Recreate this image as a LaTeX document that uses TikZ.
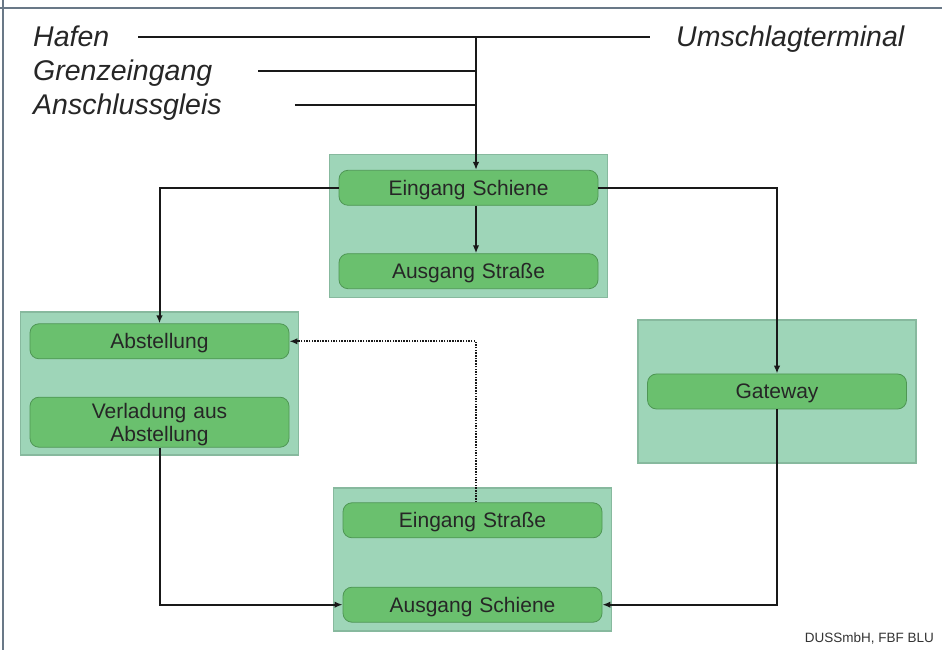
\documentclass[tikz,border=0pt]{standalone}
\usepackage{fontspec}
\setmainfont{Liberation Sans}
\usetikzlibrary{positioning, arrows.meta}

\definecolor{boxmint}{RGB}{158,213,184}
\definecolor{boxedge}{RGB}{135,185,158}
\definecolor{pillgreen}{RGB}{106,192,110}
\definecolor{pilledge}{RGB}{78,150,84}
\definecolor{framegray}{RGB}{105,120,135}

\begin{document}
\begin{tikzpicture}[x=1pt, y=1pt,
					container/.style={draw=boxedge, fill=boxmint, line width=1.2pt, rectangle, minimum width=278pt, minimum height=143pt, inner sep=0pt},
					pill/.style={draw=pilledge, fill=pillgreen, line width=0.8pt, rectangle, rounded corners=9pt, minimum width=259pt, minimum height=35pt, text width=250pt, align=center, inner sep=0pt, text height=15pt, text depth=0pt, font=\fontsize{21}{23}\selectfont, text=black!85},
					place/.style={font=\fontsize{28.5}{32}\selectfont\itshape, text=black!85, inner sep=0pt, text height=20pt, text depth=0pt, anchor=west},
					feed/.style={line width=2pt, draw=black!90},
					arrow/.style={feed, -{Latex[length=8pt, width=6.5pt]}},
					backflow/.style={arrow, dash pattern=on 1.5pt off 1.2pt},
					credit/.style={font=\fontsize{13.5}{15}\selectfont, text=black!80, inner sep=0pt}
					]
					
					\useasboundingbox (0,0) rectangle (942,650);
					
					% Frame
					\draw[framegray, line width=2pt] (0,642) -- (942,642);
					\draw[framegray, line width=2pt] (3,0) -- (3,650);
					
					% Origins
					\node[place] (hafen) at (33,613) {Hafen};
					\node[place] (umschlag) at (676,613) {Umschlagterminal};
					\node[place] (grenz) at (33,579) {Grenzeingang};
					\node[place] (anschluss) at (33,545) {Anschlussgleis};
					\coordinate (hub) at (476,613);
					
					% Areas
					\node[container] (rail) at (468.5,424) {};
					\node[container] (park) at (159.5,266.5) {};
					\node[container] (gate) at (777,258.5) {};
					\node[container] (road) at (472.5,90.5) {};
					
					% Steps
					\node[pill, below=16pt of rail.north] (es) {Eingang Schiene};
					\node[pill, above=9pt of rail.south] (as) {Ausgang Straße};
					\node[pill, below=12pt of park.north] (abst) {Abstellung};
					\node[pill, above=8pt of park.south, minimum height=50pt, text depth=23pt] (verl) {Verladung aus\\Abstellung};
					\node[pill] (gw) at (gate) {Gateway};
					\node[pill, below=15pt of road.north] (estr) {Eingang Straße};
					\node[pill, above=9pt of road.south] (asch) {Ausgang Schiene};
					
					% Feeder lines
					\draw[feed] ([xshift=29pt]hafen.east) -- ([xshift=-26pt]umschlag.west);
					\draw[feed] ([xshift=46pt]grenz.east) -- (grenz.east -| hub);
					\draw[feed] ([xshift=73pt]anschluss.east) -- (anschluss.east -| hub);
					\draw[arrow] (hub) -- (es.north -| hub);
					
					% Arrows
					\draw[arrow] (es.south -| hub) -- (as.north -| hub);
					\draw[arrow] (es.west) -| (abst.north);
					\draw[arrow] (es.east) -| (gw.north);
					\draw[arrow] (gw.south) |- (asch.east);
					\draw[arrow] (verl.south) |- (asch.west);
					\draw[backflow] (estr.north -| hub) |- (abst.east);
					
					\node[credit, anchor=east] (src) at (934,12) {DUSSmbH, FBF BLU};
					
				\end{tikzpicture}
\end{document}
